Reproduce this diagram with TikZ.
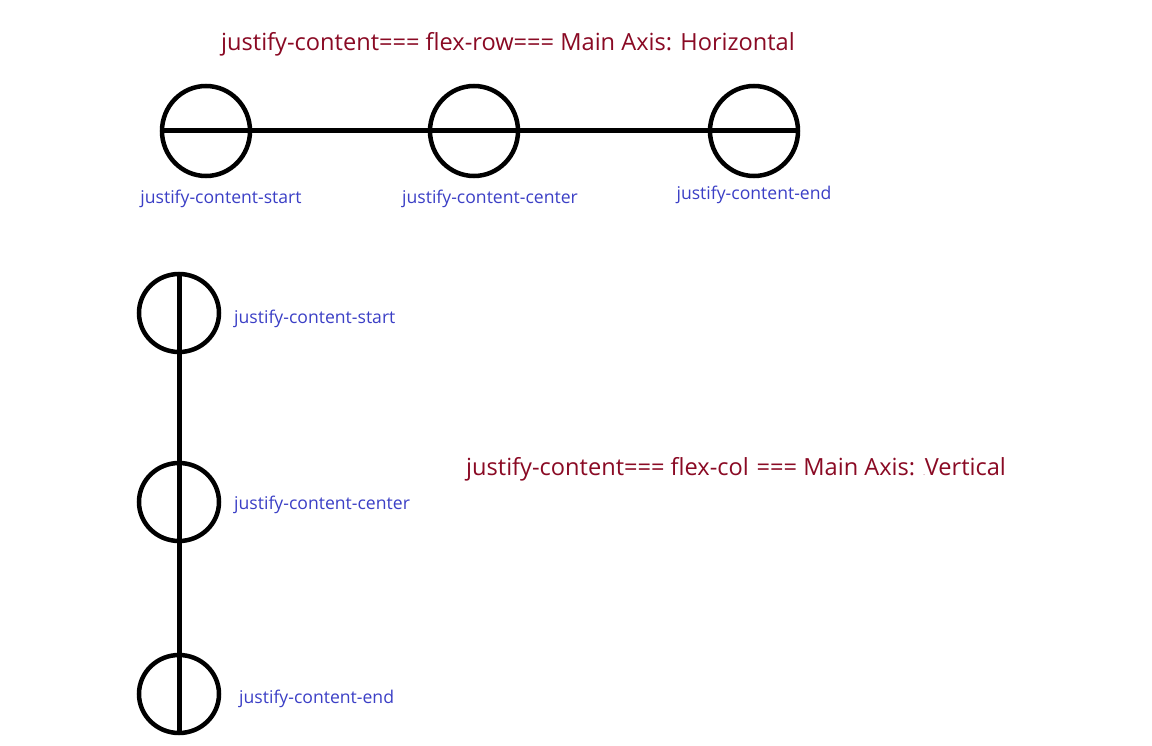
\documentclass[tikz,border=0pt]{standalone}
\usepackage{fontspec}
\setmainfont{Open Sans}
\usetikzlibrary{shapes.geometric}
\definecolor{titlered}{HTML}{8A0A24}
\definecolor{labelblue}{HTML}{3B3FC6}
\tikzset{
  ring/.style={ellipse, draw=black, line width=4.5pt, inner sep=0pt, outer sep=0pt},
  hring/.style={ring, minimum width=88pt, minimum height=90pt},
  vring/.style={ring, minimum width=80pt, minimum height=78pt},
  axis/.style={line width=5pt, black},
  title/.style={text=titlered, font=\fontsize{23.6}{26}\selectfont, inner sep=0pt},
  lbl/.style={text=labelblue, font=\fontsize{17.6}{20}\selectfont, inner sep=0pt}
}
\begin{document}
\begin{tikzpicture}[x=1pt,y=-1pt]
\useasboundingbox[fill=white] (0,0) rectangle (1152,746);
% horizontal
\node[title, anchor=base west] (t1) at (221,51) {justify-content=== flex-row=== Main Axis: Horizontal};
\node[hring] (h1) at (206,131) {};
\node[hring] (h2) at (474,131) {};
\node[hring] (h3) at (754,131) {};
\draw[axis] (h1.west) -- (h3.east);
\node[lbl] (hl1) at (221,199) {justify-content-start};
\node[lbl] (hl2) at (490,199) {justify-content-center};
\node[lbl] (hl3) at (754,195) {justify-content-end};
% vertical
\node[vring] (v1) at (179,313) {};
\node[vring] (v2) at (179,502) {};
\node[vring] (v3) at (179,694) {};
\draw[axis] (v1.north) -- (v3.south);
\node[lbl, anchor=west] (vl1) at (234,319) {justify-content-start};
\node[lbl, anchor=west] (vl2) at (234,505) {justify-content-center};
\node[lbl, anchor=west] (vl3) at (239,699) {justify-content-end};
\node[title, anchor=base west] (t2) at (466,475) {justify-content=== flex-col\,\,=== Main Axis: {\fontsize{6}{6}\selectfont.}Vertical};
\end{tikzpicture}
\end{document}
